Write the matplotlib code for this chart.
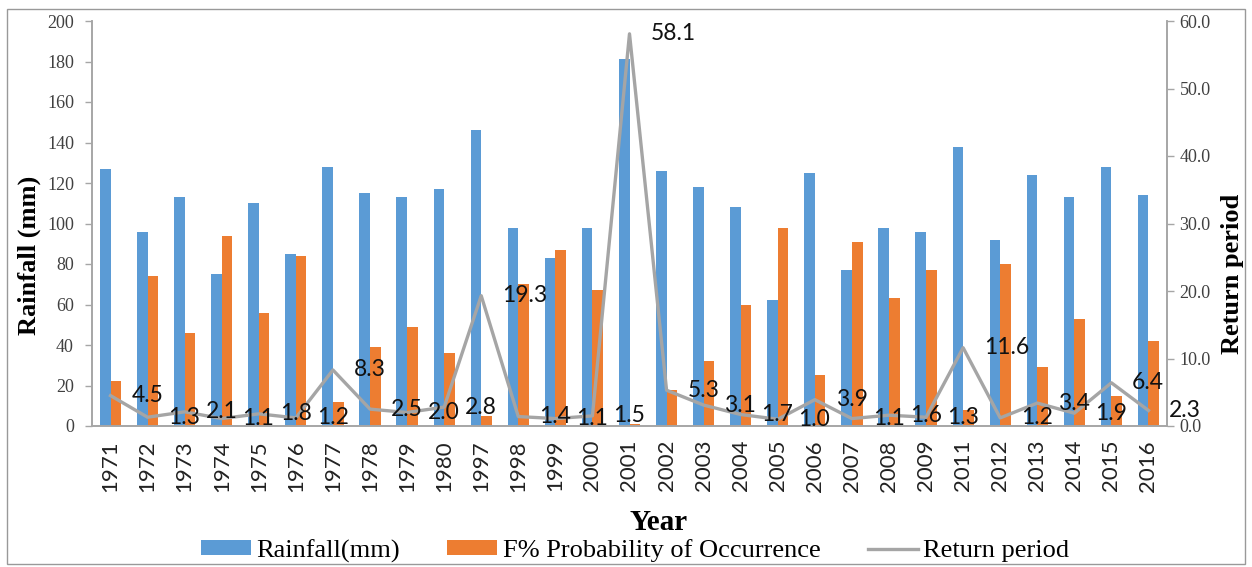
import matplotlib.pyplot as plt
from matplotlib.patches import Rectangle
import numpy as np

years = ["1971", "1972", "1973", "1974", "1975", "1976", "1977", "1978", "1979", "1980",
         "1997", "1998", "1999", "2000", "2001", "2002", "2003", "2004", "2005", "2006",
         "2007", "2008", "2009", "2011", "2012", "2013", "2014", "2015", "2016"]
rainfall = [127, 96, 113, 75, 110, 85, 128, 115, 113, 117,
            146, 98, 83, 98, 181, 126, 118, 108, 62, 125,
            77, 98, 96, 138, 92, 124, 113, 128, 114]
prob = [22, 74, 46, 94, 56, 84, 12, 39, 49, 36,
        5, 70, 87, 67, 1, 18, 32, 60, 98, 25,
        91, 63, 77, 8, 80, 29, 53, 15, 42]
ret_period = [4.5, 1.3, 2.1, 1.1, 1.8, 1.2, 8.3, 2.5, 2.0, 2.8,
              19.3, 1.4, 1.1, 1.5, 58.1, 5.3, 3.1, 1.7, 1.0, 3.9,
              1.1, 1.6, 1.3, 11.6, 1.2, 3.4, 1.9, 6.4, 2.3]

blue = "#5B9BD5"
orange = "#ED7D31"
grey = "#A5A5A5"
serif = "Liberation Serif"
sans = "Lato"

fig = plt.figure(figsize=(12.52, 5.67), dpi=100)
ax = fig.add_axes([92/1252, 1 - 426/567, (1167 - 92)/1252, (426 - 21)/567])
ax2 = ax.twinx()

x = np.arange(len(years))
w = 1 / 3.5
ax.bar(x - w/2, rainfall, w, color=blue, label="Rainfall(mm)")
ax.bar(x + w/2, prob, w, color=orange, label="F% Probability of Occurrence")
ax2.plot(x, ret_period, color=grey, lw=2.4, label="Return period")

# data labels sit to the right of each point
for xi, v in zip(x, ret_period):
    ax2.annotate(f"{v:.1f}", (xi, v), xytext=(15, 0), textcoords="offset points",
                 ha="left", va="center", fontsize=16.5, family=sans, color="#111111",
                 clip_on=False, zorder=5)

ax.set_xlim(-0.5, len(years) - 0.5)
ax.set_ylim(0, 200)
ax.set_yticks(range(0, 201, 20))
ax2.set_ylim(0, 60)
ax2.set_yticks(range(0, 61, 10))
ax2.set_yticklabels([f"{t:.1f}" for t in range(0, 61, 10)])

ax.set_xticks(x)
ax.set_xticklabels(years, rotation=90, family=sans, fontsize=16, color="#222222")
ax.tick_params(axis="x", length=0, pad=10)
ax.tick_params(axis="y", length=5, width=1, color="#a6a6a6", pad=8, labelsize=13, labelcolor="#404040")
ax2.tick_params(axis="y", length=5, width=1, color="#a6a6a6", pad=4, labelsize=13, labelcolor="#404040")
for lab in ax.get_yticklabels() + ax2.get_yticklabels():
    lab.set_family(serif)

for a in (ax, ax2):
    a.spines["top"].set_visible(False)
    for s in ("left", "right", "bottom"):
        a.spines[s].set_color("#a6a6a6")
        a.spines[s].set_linewidth(1.2)
ax2.set_zorder(ax.get_zorder() + 1)
ax2.patch.set_visible(False)

fig.text(29/1252, 1 - 255/567, "Rainfall (mm)", rotation=90, ha="center", va="center",
         family=serif, fontweight="bold", fontsize=19)
fig.text(1232/1252, 1 - 274/567, "Return period", rotation=90, ha="center", va="center",
         family=serif, fontweight="bold", fontsize=19)
fig.text(659/1252, 1 - 522/567, "Year", ha="center", va="center",
         family=serif, fontweight="bold", fontsize=21)

h1, l1 = ax.get_legend_handles_labels()
h2, l2 = ax2.get_legend_handles_labels()
fig.legend(h1 + h2, l1 + l2, loc="center", bbox_to_anchor=(635/1252, 1 - 551/567), ncol=3,
           frameon=False, prop={"family": serif, "size": 19}, handlelength=1.9,
           handleheight=0.5, handletextpad=0.2, columnspacing=1.8, borderpad=0)

fig.patches.append(Rectangle((7/1252, 1 - 564/567), 1238/1252, 555/567, transform=fig.transFigure,
                             fill=False, edgecolor="#999999", lw=1))

fig.savefig("out.png", dpi=100)
